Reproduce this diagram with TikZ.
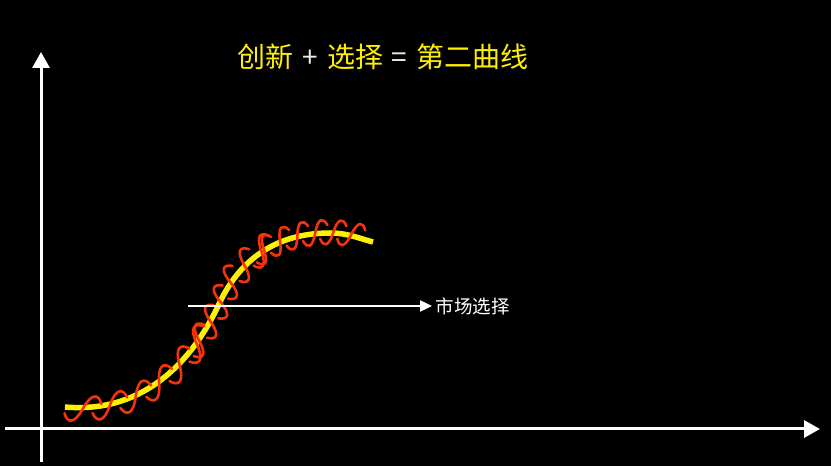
\documentclass[tikz,border=0pt]{standalone}
\usepackage{fontspec}
\setmainfont{Liberation Sans}
\newfontfamily\cjk{Noto Sans CJK SC}
\usetikzlibrary{arrows.meta,decorations.markings}
\definecolor{curveyellow}{RGB}{255,240,0}
\definecolor{helixred}{RGB}{245,50,10}

% one S-shaped piece of the twisted strand: width, amplitude
\newcommand{\twistpiece}[2]{\draw[helix] (0,-0.4*#2)
  .. controls (0.1*#1,-1.05*#2) and (0.3*#1,-1.05*#2) .. (0.5*#1,0)
  .. controls (0.7*#1,1.05*#2) and (0.9*#1,1.05*#2) .. (#1,0.4*#2);}

\begin{document}
\begin{tikzpicture}[x=1pt, y=1pt, >=Triangle,
  axis/.style={white, line width=3pt, -{Triangle[length=16pt,width=17pt]}},
  helix/.style={helixred, line width=2.6pt, line cap=round},
  twisted/.style={postaction={decorate}, decoration={markings,
    mark=between positions 0 and 0.36 step 27pt with {\twistpiece{36}{15.5}},
    mark=between positions 0.37 and 0.66 step 22pt with {\twistpiece{31}{14.5}},
    mark=between positions 0.67 and 0.94 step 18pt with {\twistpiece{27}{13.5}}}}]
  \useasboundingbox (0,0) rectangle (831,466);
  \fill[black] (0,0) rectangle (831,466);
  % axes
  \coordinate (xstart) at (5,37);
  \coordinate (xend) at (820,37);
  \coordinate (ystart) at (41,4);
  \coordinate (yend) at (41,414);
  \draw[axis] (xstart)--(xend);
  \draw[axis] (ystart)--(yend);
  % second curve with twisted strand
  \coordinate (s0) at (65,59);
  \coordinate (s1) at (219,162);
  \coordinate (s2) at (330,233);
  \coordinate (s3) at (373,224);
  \draw[curveyellow, line width=5.5pt, twisted]
    (s0) to[out=-5,in=245] (s1) to[out=65,in=180] (s2) to[out=0,in=165] (s3);
  % market selection
  \coordinate (mstart) at (188,160);
  \node[text=white, right, font=\cjk\fontsize{18.5}{20}\selectfont] (market) at (432,160) {市场选择};
  \draw[white, line width=2.4pt, -{Triangle[length=12pt,width=11pt]}] (mstart)--(market.west);
  % title
  \node[text=curveyellow, font=\cjk\fontsize{28}{32}\selectfont] (title) at (383,409)
    {创新\hspace{0.32em}\textcolor{white!85!gray}{+}\hspace{0.32em}选择\hspace{0.32em}\textcolor{white!85!gray}{=}\hspace{0.32em}第二曲线};
\end{tikzpicture}
\end{document}
